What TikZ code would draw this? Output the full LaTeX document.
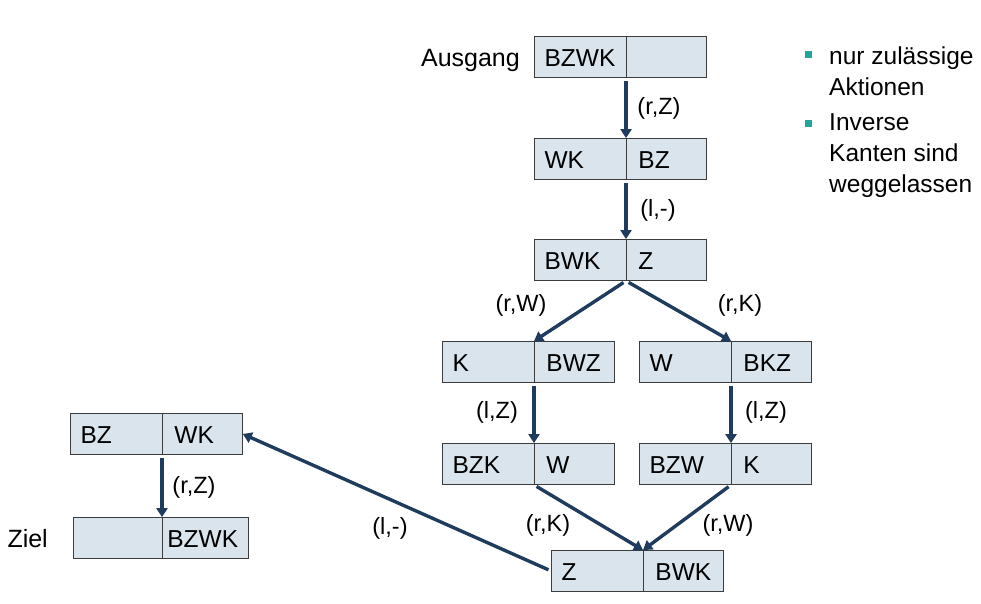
\documentclass[tikz,border=0pt]{standalone}
\usepackage{fontspec}
\setmainfont{Liberation Sans}
\usetikzlibrary{shapes.multipart,arrows.meta,positioning}
\definecolor{boxfill}{HTML}{D9E4EC}
\definecolor{boxline}{HTML}{3C3C3C}
\definecolor{pfeilblau}{HTML}{1F3B5E}
\definecolor{punkt}{HTML}{1FA59B}
\newcommand\zst[2]{\nodepart{one}\makebox[91pt][l]{\hspace{10pt}#1\rule[-11pt]{0pt}{41pt}}\nodepart{two}\makebox[80pt][l]{\hspace{12pt}#2\rule[-11pt]{0pt}{41pt}}}

\begin{document}
\begin{tikzpicture}[x=1pt,y=-1pt,
  zustand/.style={rectangle split, rectangle split horizontal, rectangle split parts=2, draw=boxline, fill=boxfill, line width=0.8pt, inner xsep=0pt, inner ysep=0pt, anchor=one split, font=\fontsize{24.5}{29}\selectfont},
  pfeil/.style={draw=pfeilblau, line width=3.4pt, shorten <=3pt, -{Triangle[length=9pt,width=11pt]}},
  marke/.style={font=\fontsize{23.5}{28}\selectfont, inner sep=0pt},
  punktbox/.style={fill=punkt, minimum size=7pt, inner sep=0pt}]
  \useasboundingbox (0,0) rectangle (981,604);
  \node[zustand] (s1) at (626,57) {\zst{BZWK}{}};
  \node[zustand] (s2) at (626,159) {\zst{WK}{BZ}};
  \node[zustand] (s3) at (626,260) {\zst{BWK}{Z}};
  \node[zustand] (s4) at (534,362) {\zst{K}{BWZ}};
  \node[zustand] (s5) at (731,362) {\zst{W}{BKZ}};
  \node[zustand] (s6) at (534,464) {\zst{BZK}{W}};
  \node[zustand] (s7) at (731,464) {\zst{BZW}{K}};
  \node[zustand] (s8) at (643,571) {\zst{Z}{BWK}};
  \node[zustand] (s9) at (162,434) {\zst{BZ}{WK}};
  \node[zustand] (s10) at (162,538) {
  \nodepart{one}\makebox[88pt]{\rule[-11pt]{0pt}{41pt}}
  \nodepart{two}\makebox[86pt][l]{\hspace{5pt}BZWK\rule[-11pt]{0pt}{41pt}}
  };
  \node[anchor=base east, inner sep=0pt, font=\fontsize{25}{29}\selectfont] (ausgang) at (520,67) {Ausgang};
  \node[anchor=base east, inner sep=0pt, font=\fontsize{25}{29}\selectfont] (ziel) at (48,547) {Ziel};

  \draw[pfeil] (s1.one split south) -- (s2.one split north);
  \draw[pfeil] (s2.one split south) -- (s3.one split north);
  \draw[pfeil] (s3.one split south) -- (s4.one split north);
  \draw[pfeil] (s3.one split south) -- (s5.one split north);
  \draw[pfeil] (s4.one split south) -- (s6.one split north);
  \draw[pfeil] (s5.one split south) -- (s7.one split north);
  \draw[pfeil] (s6.one split south) -- (s8.one split north);
  \draw[pfeil] (s7.one split south) -- (s8.one split north);
  \draw[pfeil] (s8.west) -- (s9.east);
  \draw[pfeil] (s9.one split south) -- (s10.one split north);

  \node[marke] (m1) at (659,108) {(r,Z)};
  \node[marke] (m2) at (658,210) {(l,-)};
  \node[marke] (m3) at (521,305) {(r,W)};
  \node[marke] (m4) at (740,305) {(r,K)};
  \node[marke] (m5) at (497,412) {(l,Z)};
  \node[marke] (m6) at (766,412) {(l,Z)};
  \node[marke] (m7) at (548,525) {(r,K)};
  \node[marke] (m8) at (728,525) {(r,W)};
  \node[marke] (m9) at (390,528) {(l,-)};
  \node[marke] (m10) at (194,487) {(r,Z)};

  \node[punktbox] (p1) at (808,55) {};
  \node[punktbox] (p2) at (808,124) {};
  \node[anchor=north west, align=left, inner sep=0pt, font=\fontsize{24.5}{31}\selectfont] (t1) at (829,47) {nur zulässige\\Aktionen};
  \node[anchor=north west, align=left, inner sep=0pt, font=\fontsize{24.5}{31}\selectfont] (t2) at (829,113) {Inverse\\Kanten sind\\weggelassen};
\end{tikzpicture}
\end{document}
